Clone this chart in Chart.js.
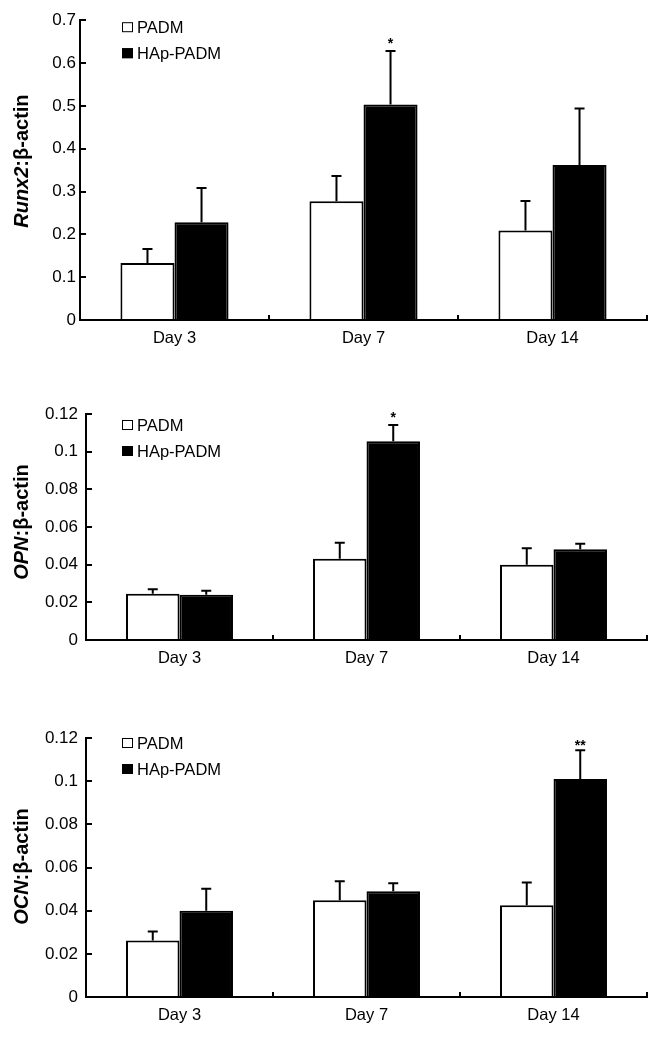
<!DOCTYPE html>
<html><head><meta charset="utf-8">
<script src="https://cdn.jsdelivr.net/npm/chart.js@4.4.0/dist/chart.umd.min.js"></script>
<style>
html,body{margin:0;padding:0;background:#fff;}
body{width:660px;height:1037px;position:relative;overflow:hidden;}
canvas{position:absolute;left:0;}
</style></head><body>
<canvas id="c1" width="660" height="350" style="top:0px"></canvas>
<canvas id="c2" width="660" height="290" style="top:380px"></canvas>
<canvas id="c3" width="660" height="327" style="top:700px"></canvas>
<script>
// ---------- data ----------
const categories = ['Day 3', 'Day 7', 'Day 14'];
const seriesNames = ['PADM', 'HAp-PADM'];

// Runx2
const runxTitle = ['Runx2', ':β-actin'];
const runxTicks = ['0', '0.1', '0.2', '0.3', '0.4', '0.5', '0.6', '0.7'];
const runxPADM = [0.133, 0.277, 0.209];
const runxPADMsd = [0.033, 0.059, 0.069];
const runxHAp = [0.228, 0.503, 0.362];
const runxHApSd = [0.080, 0.125, 0.132];
const runxSig = ['', '*', ''];

// OPN
const opnTitle = ['OPN', ':β-actin'];
const opnTicks = ['0', '0.02', '0.04', '0.06', '0.08', '0.1', '0.12'];
const opnPADM = [0.0245, 0.0432, 0.0400];
const opnPADMsd = [0.0024, 0.0085, 0.0087];
const opnHAp = [0.0240, 0.1055, 0.0482];
const opnHApSd = [0.0022, 0.0087, 0.0029];
const opnSig = ['', '*', ''];

// OCN
const ocnTitle = ['OCN', ':β-actin'];
const ocnTicks = ['0', '0.02', '0.04', '0.06', '0.08', '0.1', '0.12'];
const ocnPADM = [0.0262, 0.0448, 0.0425];
const ocnPADMsd = [0.0041, 0.0088, 0.0105];
const ocnHAp = [0.0400, 0.0490, 0.1010];
const ocnHApSd = [0.0102, 0.0037, 0.0133];
const ocnSig = ['', '', '**'];

// ---------- drawing ----------
const FONT = 'Arial, "Liberation Sans", sans-serif';
const colors = ['#ffffff', '#000000'];

function makePanel(id, o) {
  const plugin = {
    id: 'extras_' + id,
    afterDatasetsDraw(chart) {
      const ctx = chart.ctx;
      const y = chart.scales.y;
      const area = chart.chartArea;
      ctx.save();
      // error bars
      [o.sdA, o.sdB].forEach((sds, di) => {
        const vals = chart.data.datasets[di].data;
        const meta = chart.getDatasetMeta(di);
        meta.data.forEach((bar, j) => {
          const top = y.getPixelForValue(vals[j] + sds[j]);
          const base = y.getPixelForValue(vals[j]);
          ctx.strokeStyle = '#000';
          ctx.lineWidth = 2;
          ctx.beginPath();
          ctx.moveTo(bar.x, base);
          ctx.lineTo(bar.x, top);
          ctx.moveTo(bar.x - 5, top);
          ctx.lineTo(bar.x + 5, top);
          ctx.stroke();
          if (di === 1 && o.sig[j]) {
            ctx.fillStyle = '#000';
            ctx.font = 'bold 14px ' + FONT;
            ctx.textAlign = 'center';
            ctx.textBaseline = 'alphabetic';
            ctx.fillText(o.sig[j], bar.x, top - (o.sig[j].length > 1 ? 0 : 3));
          }
        });
      });
      // legend
      seriesNames.forEach((name, i) => {
        const cy = area.top + o.legendY[i];
        ctx.fillStyle = colors[i];
        ctx.fillRect(122, cy - 5, 11, 10);
        ctx.strokeStyle = '#000';
        ctx.lineWidth = 1;
        ctx.strokeRect(122.5, cy - 4.5, 10, 9);
        ctx.fillStyle = '#000';
        ctx.font = '16.5px ' + FONT;
        ctx.textAlign = 'left';
        ctx.textBaseline = 'middle';
        ctx.fillText(name, 137, cy + 1);
      });
      // y title with italic gene name
      ctx.translate(22, (area.top + area.bottom) / 2 + o.titleDy);
      ctx.rotate(-Math.PI / 2);
      const f1 = 'italic bold 20px ' + FONT, f2 = 'bold 20px ' + FONT;
      ctx.font = f1; const w1 = ctx.measureText(o.title[0]).width;
      ctx.font = f2; const w2 = ctx.measureText(o.title[1]).width;
      let sx = -(w1 + w2) / 2;
      ctx.textAlign = 'left';
      ctx.textBaseline = 'middle';
      ctx.fillStyle = '#000';
      ctx.font = f1; ctx.fillText(o.title[0], sx, 0);
      ctx.font = f2; ctx.fillText(o.title[1], sx + w1, 0);
      ctx.restore();
    }
  };

  new Chart(document.getElementById(id), {
    type: 'bar',
    data: {
      labels: categories,
      datasets: [
        { label: seriesNames[0], data: o.a, backgroundColor: colors[0], borderColor: '#000', borderWidth: 2,
          categoryPercentage: 0.572, barPercentage: 1 },
        { label: seriesNames[1], data: o.b, backgroundColor: colors[1], borderColor: '#000', borderWidth: 2,
          categoryPercentage: 0.572, barPercentage: 1 }
      ]
    },
    options: {
      responsive: false,
      animation: false,
      events: [],
      layout: { padding: { top: o.padTop, right: 13, left: 0, bottom: 0 } },
      plugins: { legend: { display: false }, tooltip: { enabled: false } },
      scales: {
        x: {
          offset: true,
          grid: { offset: true, drawOnChartArea: false, drawTicks: true, tickLength: -5, color: '#000', lineWidth: 2 },
          border: { display: true, color: '#000', width: 2 },
          ticks: { color: '#000', font: { family: FONT, size: 16.5 }, padding: 14 },
          afterFit(s) { s.height = 30; }
        },
        y: {
          min: 0, max: o.max,
          grid: { drawOnChartArea: false, drawTicks: true, tickLength: -6, color: '#000', lineWidth: 2 },
          border: { display: true, color: '#000', width: 2 },
          ticks: { stepSize: o.step, color: '#000', font: { family: FONT, size: 17 }, padding: o.tickPad,
                   callback: (v, i) => o.ticks[i] },
          afterFit(s) { s.width = o.yWidth; }
        }
      }
    },
    plugins: [plugin]
  });
}

makePanel('c1', { a: runxPADM, b: runxHAp, sdA: runxPADMsd, sdB: runxHApSd, sig: runxSig, ticks: runxTicks,
  title: runxTitle, max: 0.7, step: 0.1, padTop: 18, yWidth: 80, tickPad: 10, legendY: [7, 33], titleDy: -9 });
makePanel('c2', { a: opnPADM, b: opnHAp, sdA: opnPADMsd, sdB: opnHApSd, sig: opnSig, ticks: opnTicks,
  title: opnTitle, max: 0.12, step: 0.02, padTop: 34, yWidth: 86, tickPad: 14, legendY: [11, 37], titleDy: -5 });
makePanel('c3', { a: ocnPADM, b: ocnHAp, sdA: ocnPADMsd, sdB: ocnHApSd, sig: ocnSig, ticks: ocnTicks,
  title: ocnTitle, max: 0.12, step: 0.02, padTop: 38, yWidth: 86, tickPad: 14, legendY: [5, 31], titleDy: -1 });
</script>
</body></html>
